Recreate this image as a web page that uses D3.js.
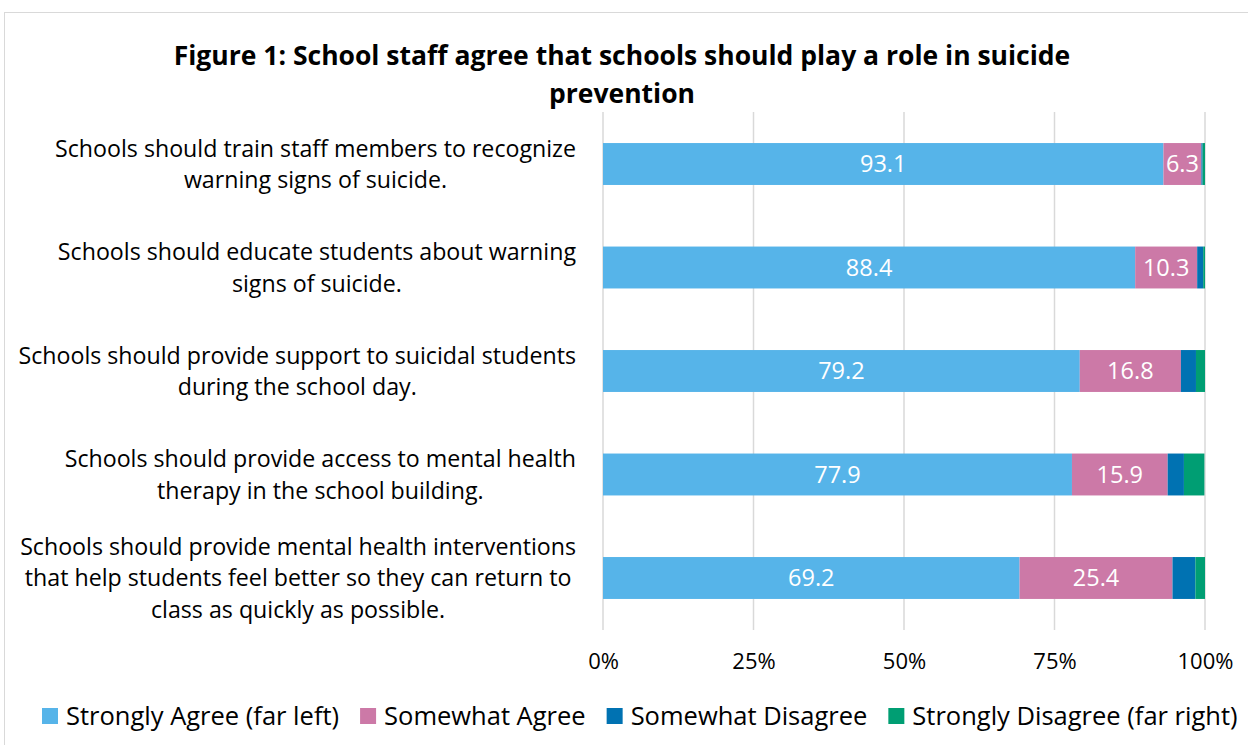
<!DOCTYPE html>
<html>
<head>
<meta charset="utf-8">
<script src="https://cdn.jsdelivr.net/npm/d3@7"></script>
<style>
  html, body { margin: 0; padding: 0; background: #fff; }
  svg text { font-family: "Open Sans", Lato, sans-serif; }
</style>
</head>
<body>
<svg id="chart" width="1248" height="745"></svg>
<script>
// Survey statements (each entry is one wrapped label, lines top to bottom)
const statements = [
  ["Schools should train staff members to recognize", "warning signs of suicide."],
  ["Schools should educate students about warning", "signs of suicide."],
  ["Schools should provide support to suicidal students", "during the school day."],
  ["Schools should provide access to mental health", "therapy in the school building."],
  ["Schools should provide mental health interventions", "that help students feel better so they can return to", "class as quickly as possible."]
];

// Percent of staff in each response group, one value per statement
const stronglyAgree    = [93.1, 88.4, 79.2, 77.9, 69.2];
const somewhatAgree    = [6.3, 10.3, 16.8, 15.9, 25.4];
const somewhatDisagree = [0.2, 1.0, 2.5, 2.7, 3.8];
const stronglyDisagree = [0.4, 0.3, 1.5, 3.4, 1.6];

const seriesNames  = ["Strongly Agree (far left)", "Somewhat Agree", "Somewhat Disagree", "Strongly Disagree (far right)"];
const seriesColors = ["#56B4E9", "#CC79A7", "#0072B2", "#009E73"];
const labelledSeries = [true, true, false, false];

const tickValues = [0, 25, 50, 75, 100];
const titleLines = ["Figure 1: School staff agree that schools should play a role in suicide", "prevention"];

const svg = d3.select("#chart");
const W = 1248, H = 745;
const margin = { left: 603, right: 43, top: 112, bottom: 115 };

// chart frame
svg.append("rect")
  .attr("x", 4.5).attr("y", 12.5)
  .attr("width", W + 10).attr("height", H)
  .attr("fill", "none").attr("stroke", "#d9d9d9").attr("stroke-width", 1);

const x = d3.scaleLinear().domain([0, 100]).range([margin.left, W - margin.right]);
const y = d3.scaleBand().domain(d3.range(statements.length))
  .range([margin.top, H - margin.bottom]).paddingInner(0.595).paddingOuter(0.3);

// title
svg.append("text")
  .attr("x", 622).attr("text-anchor", "middle")
  .style("font-weight", "bold").style("font-size", "26.5px").attr("fill", "#000")
  .selectAll("tspan").data(titleLines).join("tspan")
  .attr("x", 622).attr("y", (d, i) => 65 + i * 38).text(d => d);

// vertical gridlines
svg.append("g").selectAll("line").data(tickValues).join("line")
  .attr("x1", d => x(d)).attr("x2", d => x(d))
  .attr("y1", margin.top).attr("y2", H - margin.bottom)
  .attr("stroke", "#d9d9d9").attr("stroke-width", 1.5);

// bottom axis labels
const xAxis = d3.axisBottom(x).tickValues(tickValues).tickFormat(d => d + "%").tickSize(0).tickPadding(0);
const axisG = svg.append("g").attr("transform", `translate(0, ${H - margin.bottom + 23})`).call(xAxis);
axisG.select(".domain").remove();
axisG.selectAll("text").style("font-size", "22px").attr("fill", "#000").attr("font-family", "'Open Sans', sans-serif");

// stacked data
const rows = statements.map((s, i) => ({
  i,
  vals: [stronglyAgree[i], somewhatAgree[i], somewhatDisagree[i], stronglyDisagree[i]]
}));
const keys = [0, 1, 2, 3];
const stacked = d3.stack().keys(keys).value((d, k) => d.vals[k])(rows);

const layers = svg.append("g").selectAll("g").data(stacked).join("g")
  .attr("fill", (d, k) => seriesColors[k]);

layers.selectAll("rect").data(d => d).join("rect")
  .attr("x", d => x(d[0]))
  .attr("width", d => x(d[1]) - x(d[0]))
  .attr("y", d => y(d.data.i))
  .attr("height", y.bandwidth());

// value labels on the agree segments
stacked.forEach((layer, k) => {
  if (!labelledSeries[k]) return;
  svg.append("g").selectAll("text").data(layer).join("text")
    .attr("x", d => (x(d[0]) + x(d[1])) / 2)
    .attr("y", d => y(d.data.i) + y.bandwidth() / 2)
    .attr("dy", "0.36em")
    .attr("text-anchor", "middle")
    .style("font-size", "23.5px").attr("fill", "#fff")
    .text(d => d.data.vals[k].toFixed(1));
});

// category labels, centred block ending at the right edge
const labelRight = 576, lineH = 31.5;
const catG = svg.append("g");
statements.forEach((lines, i) => {
  const t = catG.append("text").style("font-size", "23.2px").attr("fill", "#000").attr("text-anchor", "middle");
  const cy = y(i) + y.bandwidth() / 2;
  const n = lines.length;
  lines.forEach((ln, j) => {
    t.append("tspan").attr("y", cy + (j - (n - 1) / 2) * lineH).attr("dy", "0.36em").text(ln);
  });
  let maxW = 0;
  t.selectAll("tspan").each(function() { maxW = Math.max(maxW, this.getComputedTextLength()); });
  t.selectAll("tspan").attr("x", labelRight - maxW / 2);
});

// legend
const legendItems = seriesNames.map((n, k) => ({ n, k }));
const legG = svg.append("g").attr("transform", "translate(42, 716)");
let lx = 0;
legendItems.forEach(item => {
  const g = legG.append("g").attr("transform", `translate(${lx},0)`);
  g.append("rect").attr("x", 0).attr("y", -8).attr("width", 16).attr("height", 16).attr("fill", seriesColors[item.k]);
  const tx = g.append("text").attr("x", 24).attr("y", 0).attr("dy", "0.36em")
    .style("font-size", "25.5px").attr("fill", "#000").text(item.n);
  lx += 24 + tx.node().getComputedTextLength() + 21;
});
</script>
</body>
</html>
